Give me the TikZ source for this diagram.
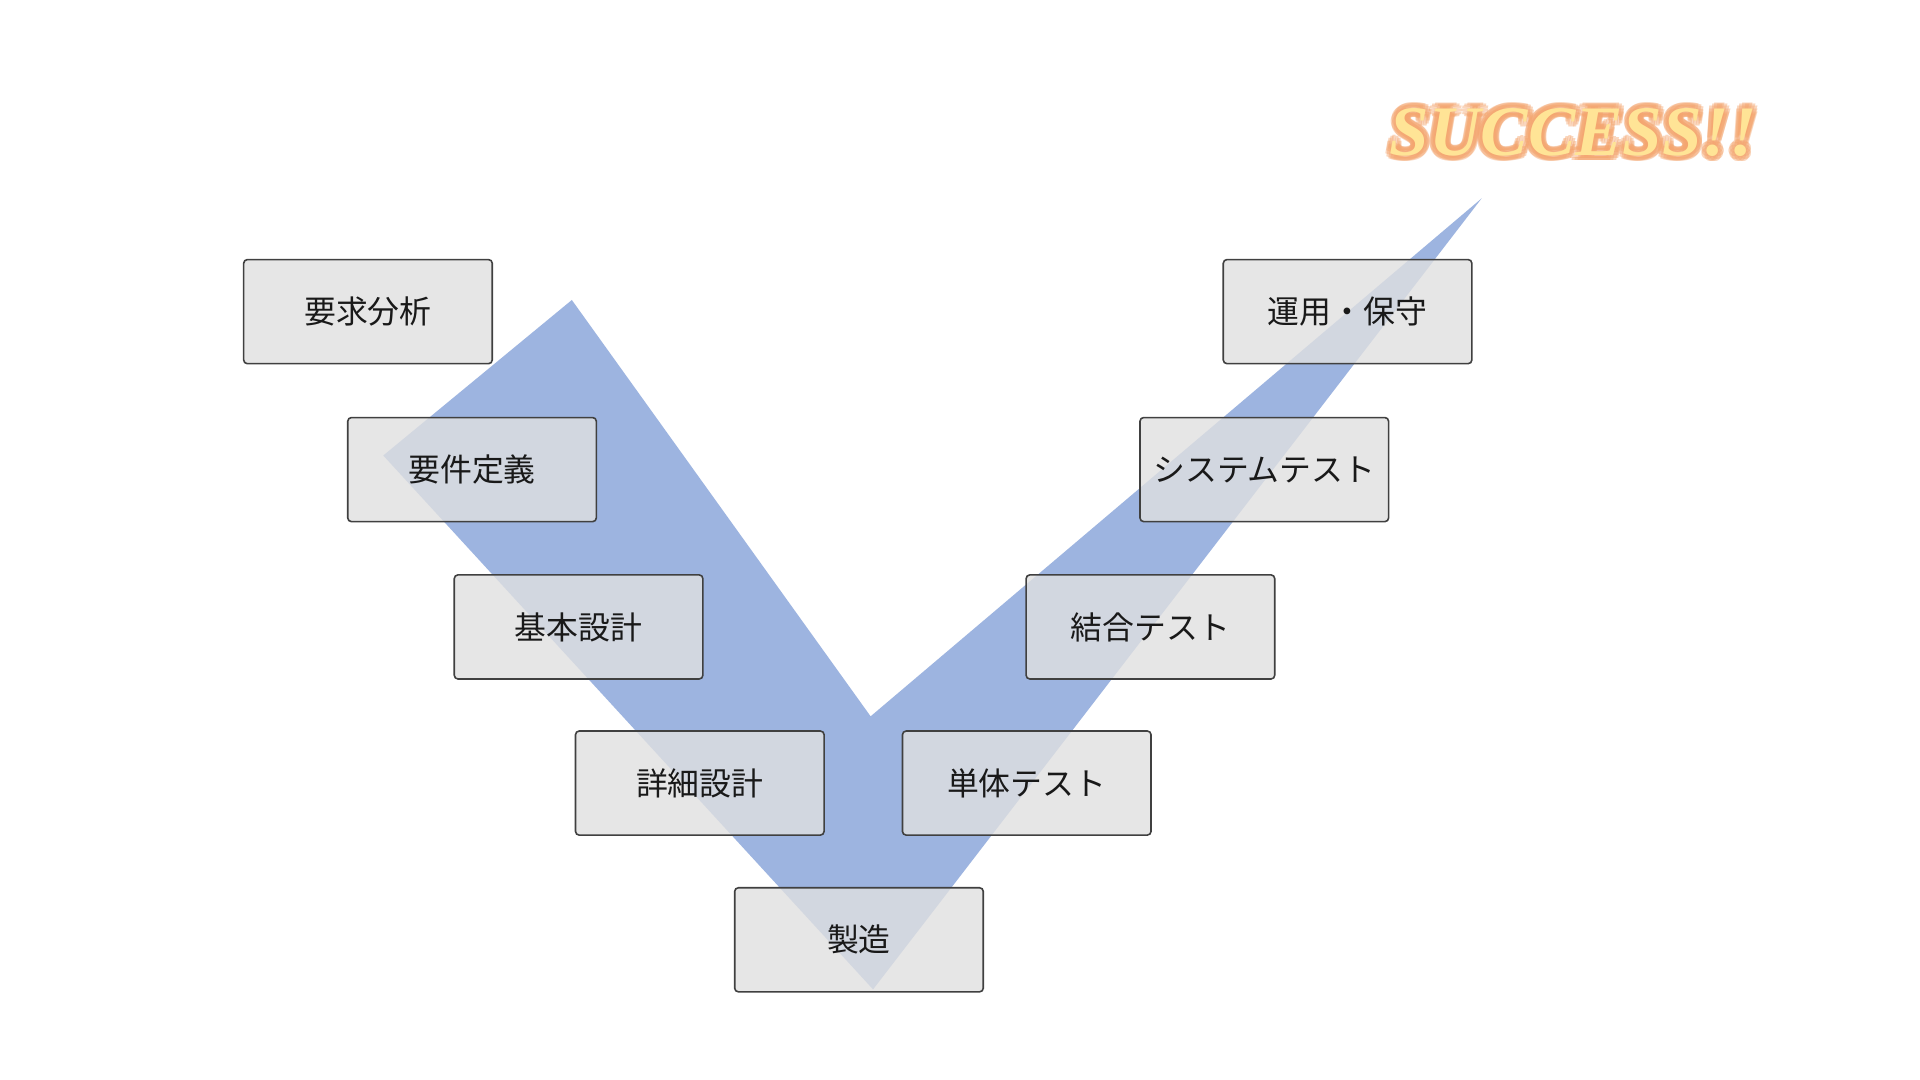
\documentclass[tikz,border=0pt]{standalone}
\usepackage{fontspec}
\usetikzlibrary{calc}
\newfontfamily\jp{Noto Sans CJK JP}
\newfontfamily\succfont{Liberation Serif}
\begin{document}
\begin{tikzpicture}[x=1pt,y=-1pt,
  stage/.style={draw=black!75,line width=1.3pt,rounded corners=3pt,fill=black!12,fill opacity=0.8,text opacity=1,minimum width=203pt,minimum height=85pt,font=\jp\fontsize{26}{29}\selectfont,text=black!90},
  succ/.style={font=\succfont\bfseries\itshape\fontsize{58}{58}\selectfont}]
\useasboundingbox (0,0) rectangle (1568,882);
\fill[fill=white] (0,0) rectangle (1568,882);
\fill[fill={rgb,255:red,157;green,180;blue,224}] (467,245) -- (711,585) -- (1210,162) -- (713,808) -- (313,372) -- cycle;
\node[stage] (a) at (300.5,254.5) {要求分析};
\node[stage] (b) at (385.5,383.5) {要件定義};
\node[stage] (c) at (472.5,512) {基本設計};
\node[stage] (d) at (571.5,639.5) {詳細設計};
\node[stage] (e) at (701.5,767.5) {製造};
\node[stage] (f) at (838.5,639.5) {単体テスト};
\node[stage] (g) at (939.5,512) {結合テスト};
\node[stage] (h) at (1032.5,383.5) {システムテスト};
\node[stage] (i) at (1100.5,254.5) {運用・保守};
\foreach \a in {0,30,...,330}{
  \node[succ,text={rgb,255:red,244;green,165;blue,110},opacity=0.45] at ($(1285,108)+(\a:4.5)$) {SUCCESS!!};
}
\node[succ,text={rgb,255:red,255;green,228;blue,150}] (s) at (1285,108) {SUCCESS!!};
\end{tikzpicture}
\end{document}
